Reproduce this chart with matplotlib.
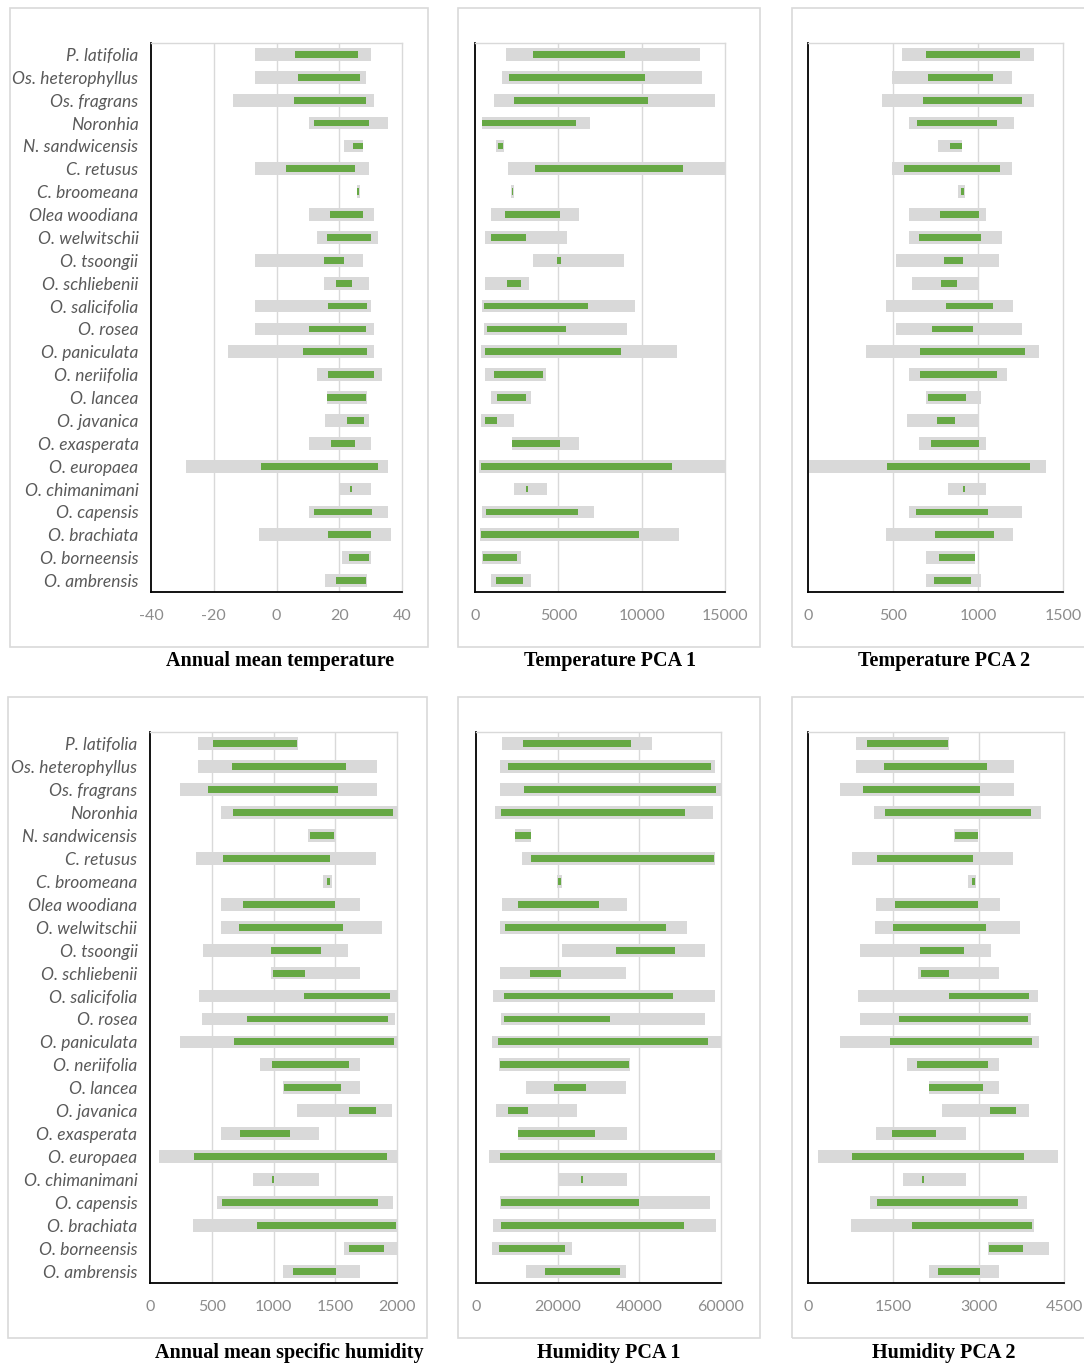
import matplotlib
matplotlib.use("Agg")
import matplotlib.pyplot as plt
from matplotlib.patches import Rectangle

# especes (du haut vers le bas)
species = ["P. latifolia", "Os. heterophyllus", "Os. fragrans", "Noronhia", "N. sandwicensis",
           "C. retusus", "C. broomeana", "Olea woodiana", "O. welwitschii", "O. tsoongii",
           "O. schliebenii", "O. salicifolia", "O. rosea", "O. paniculata", "O. neriifolia",
           "O. lancea", "O. javanica", "O. exasperata", "O. europaea", "O. chimanimani",
           "O. capensis", "O. brachiata", "O. borneensis", "O. ambrensis"]

# Annual mean temperature
temp_lo = [-7, -7, -14, 10.5, 21.5, -7, 25.5, 10.5, 13, -7, 15, -7, -7, -15.5, 13, 16, 15.5, 10.5, -29, 20, 10.5, -5.5, 21, 15.5]
temp_hi = [30, 28.5, 31, 35.5, 27.5, 29.5, 26.5, 31, 32.5, 27.5, 29.5, 30, 31, 31, 33.5, 29, 29.5, 30, 35.5, 30, 35.5, 36.5, 30, 29]
temp_core_lo = [6, 7, 5.5, 12, 24.5, 3, 25.7, 17, 16, 15, 19, 16.5, 10.5, 8.5, 16.5, 16.2, 22.5, 17.5, -5, 23.5, 12, 16.5, 23, 19]
temp_core_hi = [26, 26.5, 28.5, 29.5, 27.5, 25, 26.3, 27.5, 30, 21.5, 24, 29, 28.5, 29, 31, 28.5, 28, 25, 32.5, 24, 30.5, 30, 29.5, 28.5]

# Temperature PCA 1
tpca1_lo = [1860, 1600, 1120, 400, 1250, 1960, 2140, 960, 600, 3460, 600, 400, 520, 360, 600, 960, 360, 2200, 260, 2340, 440, 320, 400, 960]
tpca1_hi = [13520, 13600, 14420, 6900, 1750, 15500, 2360, 6240, 5540, 8920, 3240, 9620, 9120, 12120, 4240, 3360, 2340, 6240, 15500, 4320, 7120, 12240, 2740, 3340]
tpca1_core_lo = [3480, 2040, 2320, 440, 1350, 3600, 2200, 1780, 960, 4920, 1940, 520, 720, 600, 1140, 1300, 600, 2220, 360, 3060, 680, 360, 480, 1280]
tpca1_core_hi = [8980, 10200, 10400, 6080, 1650, 12480, 2300, 5080, 3080, 5140, 2760, 6800, 5480, 8760, 4060, 3060, 1300, 5080, 11820, 3180, 6160, 9840, 2540, 2900]

# Temperature PCA 2
tpca2_lo = [553, 492, 433, 595, 764, 492, 883, 595, 595, 518, 609, 461, 518, 343, 595, 693, 585, 654, 8, 825, 595, 461, 693, 693]
tpca2_hi = [1331, 1202, 1330, 1210, 908, 1202, 922, 1048, 1139, 1121, 1005, 1206, 1261, 1359, 1172, 1018, 1005, 1048, 1399, 1048, 1261, 1208, 981, 1015]
tpca2_core_lo = [697, 707, 676, 642, 835, 565, 898, 778, 654, 798, 784, 814, 727, 658, 658, 703, 756, 721, 467, 914, 634, 745, 768, 739]
tpca2_core_hi = [1245, 1087, 1259, 1111, 908, 1129, 916, 1005, 1015, 914, 877, 1089, 969, 1275, 1109, 928, 867, 1003, 1306, 924, 1058, 1097, 981, 959]

# Annual mean specific humidity
hum_lo = [387, 387, 243, 578, 1281, 373, 1400, 578, 573, 427, 978, 400, 422, 243, 892, 1076, 1189, 578, 70, 838, 541, 346, 1568, 1076]
hum_hi = [1197, 1838, 1838, 2050, 1508, 1833, 1473, 1697, 1878, 1603, 1697, 2050, 1987, 2050, 1697, 1697, 1962, 1365, 2050, 1365, 1968, 2050, 2050, 1697]
hum_core_lo = [508, 665, 468, 670, 1292, 589, 1432, 751, 724, 978, 995, 1249, 787, 681, 987, 1081, 1608, 730, 360, 989, 584, 865, 1611, 1154]
hum_core_hi = [1192, 1587, 1519, 1965, 1487, 1454, 1454, 1500, 1562, 1387, 1257, 1941, 1930, 1979, 1611, 1543, 1833, 1130, 1919, 1005, 1843, 1992, 1892, 1503]

# Humidity PCA 1
hpca1_lo = [6360, 5790, 5790, 4560, 9450, 11170, 19800, 6360, 5790, 21030, 5790, 4240, 6110, 3910, 5600, 12140, 4890, 10190, 3100, 19970, 5790, 4080, 3910, 12140]
hpca1_hi = [43030, 58520, 59900, 58110, 13450, 58600, 21030, 37080, 51590, 56150, 36760, 58600, 56150, 61000, 37700, 36680, 24780, 37080, 61000, 37080, 57300, 58760, 23470, 36680]
hpca1_core_lo = [11490, 7910, 11740, 6190, 9620, 13530, 20050, 10190, 7090, 34230, 13280, 6760, 6760, 5300, 5790, 19070, 7910, 10270, 5790, 25750, 6190, 6190, 5620, 16950]
hpca1_core_hi = [38060, 57540, 58840, 51180, 13370, 58400, 20860, 30240, 46540, 48820, 20860, 48330, 32850, 56720, 37570, 26980, 12630, 29180, 58440, 26160, 39850, 51020, 21760, 35370]

# Humidity PCA 2
hpca2_lo = [847, 847, 564, 1164, 2570, 782, 2811, 1188, 1176, 911, 1929, 876, 906, 564, 1735, 2129, 2364, 1194, 176, 1676, 1088, 764, 3158, 2129]
hpca2_hi = [2470, 3616, 3616, 4087, 2987, 3610, 2958, 3369, 3728, 3222, 3363, 4040, 3928, 4057, 3363, 3363, 3893, 2775, 4398, 2775, 3857, 3969, 4234, 3363]
hpca2_core_lo = [1029, 1329, 964, 1347, 2581, 1205, 2875, 1535, 1499, 1964, 1987, 2481, 1593, 1441, 1911, 2134, 3199, 1482, 782, 2011, 1205, 1823, 3187, 2293]
hpca2_core_hi = [2464, 3152, 3016, 3928, 2981, 2893, 2928, 2981, 3122, 2734, 2470, 3881, 3863, 3945, 3169, 3075, 3651, 2252, 3798, 2034, 3693, 3934, 3787, 3016]

W, H = 1084, 1365
fig = plt.figure(figsize=(W / 100, H / 100), dpi=100)
fig.patch.set_facecolor("white")

gris = "#d9d9d9"
vert = "#66a844"

def px(left, top, right, bottom):
    return [left / W, 1 - bottom / H, (right - left) / W, (bottom - top) / H]

def panneau(rect, lo, hi, clo, chi, xmin, xmax, ticks, show_names):
    ax = fig.add_axes(px(*rect))
    y = list(range(len(species)))
    ax.barh(y, [h - l for l, h in zip(lo, hi)], left=lo, height=0.56, color=gris, zorder=2)
    ax.barh(y, [h - l for l, h in zip(clo, chi)], left=clo, height=0.3, color=vert, zorder=3)
    ax.set_xlim(xmin, xmax)
    ax.set_ylim(len(species) - 0.5, -0.5)
    ax.set_xticks(ticks)
    ax.set_xticklabels([str(t) for t in ticks], fontsize=11.5, color="#8c8c8c", family="Lato")
    for t in ticks[1:-1]:
        ax.axvline(t, color=gris, lw=1, zorder=1)
    ax.tick_params(axis="x", length=0, pad=12)
    ax.tick_params(axis="y", length=0, pad=9)
    if show_names:
        ax.set_yticks(y)
        ax.set_yticklabels(species, fontsize=12.5, style="italic", color="#595959", family="Lato")
    else:
        ax.set_yticks([])
    for s in ["top", "right"]:
        ax.spines[s].set_color(gris)
        ax.spines[s].set_linewidth(1)
    for s in ["left", "bottom"]:
        ax.spines[s].set_color("black")
        ax.spines[s].set_linewidth(1.3)
    return ax

# cadres gris autour des graphes
cadres = [(10, 8, 428, 647), (458, 8, 760, 647), (792, 8, 1095, 647),
          (8, 697, 427, 1338), (458, 697, 760, 1338), (792, 697, 1095, 1338)]
for l, t, r, b in cadres:
    fig.patches.append(Rectangle((l / W, 1 - b / H), (r - l) / W, (b - t) / H,
                                 transform=fig.transFigure, fill=False, edgecolor=gris, lw=1.2))

panneau((151, 43, 402, 592), temp_lo, temp_hi, temp_core_lo, temp_core_hi, -40, 40, [-40, -20, 0, 20, 40], True)
panneau((475, 43, 725, 592), tpca1_lo, tpca1_hi, tpca1_core_lo, tpca1_core_hi, 0, 15000, [0, 5000, 10000, 15000], False)
panneau((808, 43, 1063, 592), tpca2_lo, tpca2_hi, tpca2_core_lo, tpca2_core_hi, 0, 1500, [0, 500, 1000, 1500], False)
panneau((150, 732, 397, 1283), hum_lo, hum_hi, hum_core_lo, hum_core_hi, 0, 2000, [0, 500, 1000, 1500, 2000], True)
panneau((476, 732, 721, 1283), hpca1_lo, hpca1_hi, hpca1_core_lo, hpca1_core_hi, 0, 60000, [0, 20000, 40000, 60000], False)
panneau((808, 732, 1064, 1283), hpca2_lo, hpca2_hi, hpca2_core_lo, hpca2_core_hi, 0, 4500, [0, 1500, 3000, 4500], False)

titres = [("Annual mean temperature", 280, 661), ("Temperature PCA 1", 610, 661),
          ("Temperature PCA 2", 944, 661), ("Annual mean specific humidity", 289, 1353),
          ("Humidity PCA 1", 609, 1353), ("Humidity PCA 2", 944, 1353)]
for txt, x, y in titres:
    fig.text(x / W, 1 - y / H, txt, ha="center", va="center", fontsize=14.5,
             fontweight="bold", family="Liberation Serif", color="black")

fig.savefig("out.png", dpi=100, facecolor="white")
